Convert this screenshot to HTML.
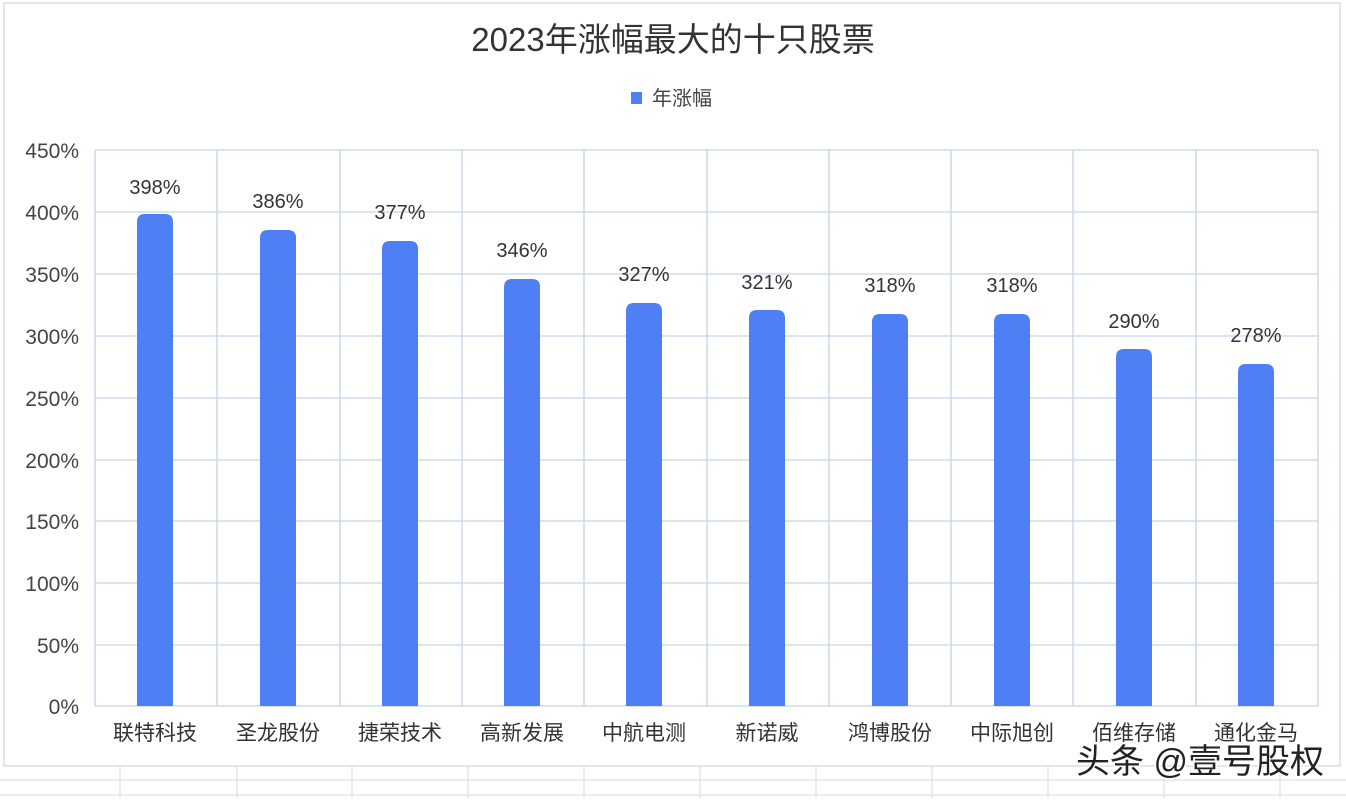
<!DOCTYPE html>
<html><head><meta charset="utf-8"><style>
body{margin:0;width:1346px;height:798px;background:#fff;overflow:hidden;font-family:"Liberation Sans","Noto Sans CJK SC",sans-serif;}
</style></head><body>
<svg width="1346" height="798" xmlns="http://www.w3.org/2000/svg" font-family="Liberation Sans, Noto Sans CJK SC, sans-serif">
<g stroke="#d4d8df" stroke-width="1">
<line x1="0" y1="780" x2="1346" y2="780"/><line x1="0" y1="795" x2="1346" y2="795"/>
<line x1="120" y1="766" x2="120" y2="798"/><line x1="237" y1="766" x2="237" y2="798"/>
<line x1="352" y1="766" x2="352" y2="798"/><line x1="468" y1="766" x2="468" y2="798"/>
<line x1="584" y1="766" x2="584" y2="798"/><line x1="700" y1="766" x2="700" y2="798"/>
<line x1="816" y1="766" x2="816" y2="798"/><line x1="932" y1="766" x2="932" y2="798"/>
<line x1="1048" y1="766" x2="1048" y2="798"/><line x1="1164" y1="766" x2="1164" y2="798"/>
<line x1="1280" y1="766" x2="1280" y2="798"/>
</g>
<rect x="4" y="3" width="1336" height="763" fill="#fff" stroke="#c8ccd3"/>
<text x="673" y="51" font-size="33" fill="#333" text-anchor="middle">2023年涨幅最大的十只股票</text>
<rect x="631" y="92" width="11" height="12" fill="#4f7ff5"/>
<text x="652" y="105" font-size="20" fill="#444">年涨幅</text>
<g stroke="#c4d3ec" stroke-width="1.3" fill="none">
<line x1="95" y1="150" x2="1318" y2="150"/><line x1="95" y1="212" x2="1318" y2="212"/>
<line x1="95" y1="274" x2="1318" y2="274"/><line x1="95" y1="336" x2="1318" y2="336"/>
<line x1="95" y1="398" x2="1318" y2="398"/><line x1="95" y1="460" x2="1318" y2="460"/>
<line x1="95" y1="521" x2="1318" y2="521"/><line x1="95" y1="583" x2="1318" y2="583"/>
<line x1="95" y1="645" x2="1318" y2="645"/><line x1="95" y1="706" x2="1318" y2="706"/>
<line x1="95" y1="150" x2="95" y2="706"/><line x1="217" y1="150" x2="217" y2="706"/>
<line x1="340" y1="150" x2="340" y2="706"/><line x1="462" y1="150" x2="462" y2="706"/>
<line x1="584" y1="150" x2="584" y2="706"/><line x1="707" y1="150" x2="707" y2="706"/>
<line x1="829" y1="150" x2="829" y2="706"/><line x1="951" y1="150" x2="951" y2="706"/>
<line x1="1073" y1="150" x2="1073" y2="706"/><line x1="1196" y1="150" x2="1196" y2="706"/>
<line x1="1318" y1="150" x2="1318" y2="706"/>
</g>
<g font-size="21" fill="#444" text-anchor="end">
<text x="79" y="158">450%</text><text x="79" y="220">400%</text><text x="79" y="282">350%</text>
<text x="79" y="344">300%</text><text x="79" y="406">250%</text><text x="79" y="468">200%</text>
<text x="79" y="529">150%</text><text x="79" y="591">100%</text><text x="79" y="653">50%</text>
<text x="79" y="714">0%</text>
</g>
<g fill="#4f7ff5">
<path d="M137 706V222Q137 214 145 214H165Q173 214 173 222V706Z"/>
<path d="M260 706V238Q260 230 268 230H288Q296 230 296 238V706Z"/>
<path d="M382 706V249Q382 241 390 241H410Q418 241 418 249V706Z"/>
<path d="M504 706V287Q504 279 512 279H532Q540 279 540 287V706Z"/>
<path d="M626 706V311Q626 303 634 303H654Q662 303 662 311V706Z"/>
<path d="M749 706V318Q749 310 757 310H777Q785 310 785 318V706Z"/>
<path d="M872 706V322Q872 314 880 314H900Q908 314 908 322V706Z"/>
<path d="M994 706V322Q994 314 1002 314H1022Q1030 314 1030 322V706Z"/>
<path d="M1116 706V357Q1116 349 1124 349H1144Q1152 349 1152 357V706Z"/>
<path d="M1238 706V372Q1238 364 1246 364H1266Q1274 364 1274 372V706Z"/>
</g>
<g font-size="20" fill="#333" text-anchor="middle">
<text x="155" y="194">398%</text><text x="278" y="208">386%</text><text x="400" y="219">377%</text>
<text x="522" y="257">346%</text><text x="644" y="281">327%</text><text x="767" y="289">321%</text>
<text x="890" y="292">318%</text><text x="1012" y="292">318%</text><text x="1134" y="328">290%</text>
<text x="1256" y="342">278%</text>
</g>
<g font-size="21" fill="#333" text-anchor="middle">
<text x="155" y="740">联特科技</text><text x="278" y="740">圣龙股份</text><text x="400" y="740">捷荣技术</text>
<text x="522" y="740">高新发展</text><text x="644" y="740">中航电测</text><text x="767" y="740">新诺威</text>
<text x="890" y="740">鸿博股份</text><text x="1012" y="740">中际旭创</text><text x="1134" y="740">佰维存储</text>
<text x="1256" y="740">通化金马</text>
</g>
<text x="1200" y="773" font-size="34" fill="#222" stroke="#fff" stroke-width="3" paint-order="stroke" text-anchor="middle">头条 @壹号股权</text>
</svg>
</body></html>
